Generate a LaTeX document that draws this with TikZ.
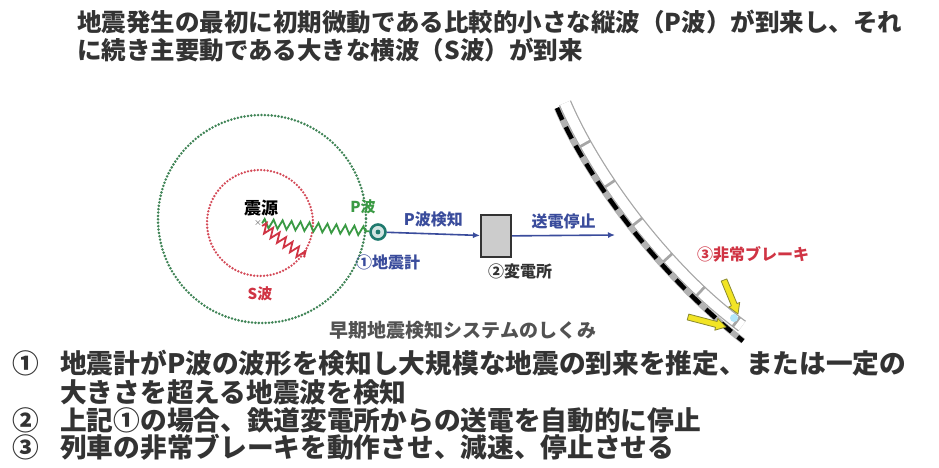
\documentclass[tikz,border=0pt]{standalone}
\usepackage{fontspec}
\setmainfont{Noto Sans CJK JP}
\usetikzlibrary{arrows.meta,decorations.pathmorphing}

\definecolor{ink}{HTML}{333333}
\definecolor{dotgreen}{HTML}{3F8456}
\definecolor{dotred}{HTML}{D44A58}
\definecolor{pgreen}{HTML}{3A9A44}
\definecolor{sred}{HTML}{D03444}
\definecolor{sigblue}{HTML}{3A4C9C}
\definecolor{seisteal}{HTML}{1F7A6E}
\definecolor{brakeyellow}{HTML}{F2E424}
\definecolor{brakeedge}{HTML}{8A8A30}

\begin{document}
\begin{tikzpicture}[x=1pt,y=-1pt,
    head/.style={anchor=west,inner sep=0pt,text=ink,font=\bfseries\fontsize{24.5}{26}\selectfont},
    item/.style={anchor=west,inner sep=0pt,text=ink,font=\bfseries\fontsize{26.7}{28}\selectfont},
    lbl/.style={inner sep=0pt,font=\bfseries\fontsize{#1}{#1}\selectfont},
    gdots/.style={draw=dotgreen,line width=2.8pt,line cap=round,dash pattern=on 0pt off 3.4pt},
    rdots/.style={draw=dotred,line width=2.6pt,line cap=round,dash pattern=on 0pt off 3.3pt},
    pzig/.style={draw=pgreen,line width=1.8pt,decorate,decoration={zigzag,segment length=9pt,amplitude=4.5pt}},
    szig/.style={draw=sred,line width=1.8pt,decorate,decoration={zigzag,segment length=8pt,amplitude=5pt}},
    seis/.style={circle,draw=seisteal,line width=2.6pt,fill=seisteal!20,minimum size=15pt,inner sep=0pt,
      path picture={\fill[seisteal] (path picture bounding box.center) circle (2.4pt);}},
    substation/.style={draw=black!80,line width=2pt,fill=gray!40,minimum width=30pt,minimum height=42pt,inner sep=0pt},
    sig/.style={draw=sigblue,line width=1.6pt,-{Latex[length=7pt,width=6pt]}},
    brake/.style={fill=brakeyellow,draw=brakeedge,line width=0.8pt,line join=round}]
\useasboundingbox[fill=white] (0,0) rectangle (939,468);

\node[head] (t1) at (77,22) {地震発生の最初に初期微動である比較的小さな縦波（P波）が到来し、それ};
\node[head] (t2) at (77,50) {に続き主要動である大きな横波（S波）が到来};

\draw[gdots] (262,219) circle (104);
\draw[rdots] (260,223) circle (53);

\node[inner sep=0pt,text=ink] (src) at (258,223) {$\times$};
\node[lbl=17,text=black] (srcname) at (261,208) {震源};
\node[seis] (seis) at (378,232) {};
\coordinate (swave) at (305,257);
\draw[pzig] (src) -- (seis);
\draw[szig] (src) -- (swave);
\node[lbl=15,text=pgreen] (pname) at (363,207) {P波};
\node[lbl=15,text=sred] (sname) at (260,294) {S波};
\node[lbl=16,text=sigblue] (seisname) at (388,262) {①地震計};

\node[substation] (sub) at (496,236) {};
\node[lbl=16,text=ink] (subname) at (520,271) {②変電所};
\coordinate (cut) at (615,235);
\draw[sig] (seis) -- node[lbl=16,text=sigblue,above=6pt] {P波検知} (sub);
\draw[sig] (sub) -- node[lbl=16,text=sigblue,above=6pt] {送電停止} (cut);

\draw[gray!70,line width=13pt] (565,103) .. controls (598,180) and (671,274) .. (742,326);
\draw[white,line width=10.5pt,dash pattern=on 44pt off 3pt] (565,103) .. controls (598,180) and (671,274) .. (742,326);
\fill[cyan!30] (734,318) circle (4pt);
\draw[gray!60,line width=6pt] (557,108) .. controls (590,185) and (665,280) .. (743,341);
\draw[black,line width=4.5pt,dash pattern=on 13pt off 8pt] (557,108) .. controls (590,185) and (665,280) .. (743,341);

\filldraw[brake] (721.2,281.1) -- (726.8,278.9) -- (737,303.6) -- (739.7,302.4) -- (738,314) -- (728.7,307) -- (731.4,305.8) -- cycle;
\filldraw[brake] (688.8,314.1) -- (717.1,321.5) -- (717.8,318.6) -- (726,327) -- (714.8,330.2) -- (715.5,327.3) -- (687.2,319.9) -- cycle;
\node[lbl=16,text=sred] (brakename) at (753,254) {③非常ブレーキ};

\node[lbl=19,text=ink!85] (caption) at (463,330) {早期地震検知システムのしくみ};

\node[item] (n1) at (12,363) {①};
\node[item] (l1) at (60,363) {地震計がP波の波形を検知し大規模な地震の到来を推定、または一定の};
\node[item] (l1b) at (60,392) {大きさを超える地震波を検知};
\node[item] (n2) at (12,420) {②};
\node[item] (l2) at (60,420) {上記①の場合、鉄道変電所からの送電を自動的に停止};
\node[item] (n3) at (12,447) {③};
\node[item] (l3) at (60,447) {列車の非常ブレーキを動作させ、減速、停止させる};
\end{tikzpicture}
\end{document}
